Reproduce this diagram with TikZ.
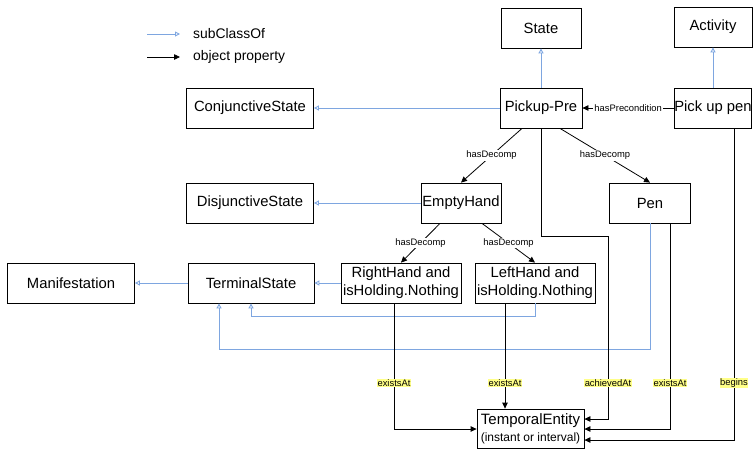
\documentclass[tikz,border=0pt]{standalone}
\usepackage{fontspec}
\setmainfont{Liberation Sans}
\usetikzlibrary{arrows.meta}
\definecolor{subblue}{RGB}{126,166,224}
\definecolor{labyellow}{RGB}{255,255,136}
\tikzset{
  box/.style={draw, line width=0.8pt, inner sep=0pt, minimum height=40pt, align=center, font=\fontsize{14.8}{18}\selectfont},
  sub/.style={draw=subblue, line width=0.9pt, -{Triangle[open,length=5pt,width=5pt]}},
  prop/.style={draw=black, line width=0.8pt, -{Triangle[length=6pt,width=5.5pt]}},
  lab/.style={fill=white, inner sep=1pt, font=\fontsize{9.4}{10}\selectfont},
  ylab/.style={fill=labyellow, inner sep=0.6pt, font=\fontsize{9.4}{10}\selectfont},
  legtext/.style={anchor=west, inner sep=0pt, font=\fontsize{13.9}{15}\selectfont}
}
\begin{document}
\begin{tikzpicture}[x=1pt,y=-1pt]
\useasboundingbox (0,0) rectangle (755,448);
% legend
\coordinate (l1a) at (147,34); \coordinate (l1b) at (180,34);
\coordinate (l2a) at (147,57); \coordinate (l2b) at (180,57);
\draw[sub] (l1a) -- (l1b);
\draw[prop] (l2a) -- (l2b);
\node[legtext] (l1t) at (193,34) {subClassOf};
\node[legtext] (l2t) at (193,57) {object property};
% nodes
\node[box, minimum width=80pt] (state) at (541,28) {State};
\node[box, minimum width=78pt] (activity) at (713,27) {Activity};
\node[box, minimum width=82pt] (pickup) at (541,108) {Pickup-Pre};
\node[box, minimum width=77pt] (pickpen) at (713,108) {Pick up pen};
\node[box, minimum width=127pt] (conj) at (250,108) {ConjunctiveState};
\node[box, minimum width=127pt] (disj) at (250,203) {DisjunctiveState};
\node[box, minimum width=80pt] (empty) at (461,203) {EmptyHand};
\node[box, minimum width=81pt] (pen) at (650,203) {Pen};
\node[box, minimum width=120pt] (right) at (401,283) {RightHand and\\isHolding.Nothing};
\node[box, minimum width=120pt] (left) at (535,283) {LeftHand and\\isHolding.Nothing};
\node[box, minimum width=127pt] (manif) at (71,283) {Manifestation};
\node[box, minimum width=126pt] (term) at (251,283) {TerminalState};
\node[box, minimum width=107pt, minimum height=39pt, font=\fontsize{15}{17}\selectfont] (temporal) at (530.5,428.5) {TemporalEntity\\{\fontsize{12}{13}\selectfont (instant or interval)}};
% subClassOf
\draw[sub] (pickup) -- (state);
\draw[sub] (pickpen) -- (activity);
\draw[sub] (pickup) -- (conj);
\draw[sub] (empty) -- (disj);
\draw[sub] (term) -- (manif);
\draw[sub] (right) -- (term);
\draw[sub] (left.south) -- ++(0,13) -| (term.south);
\coordinate (penturn) at (219,349);
\draw[sub] (pen.south) |- (penturn) -- (penturn |- term.south);
% object properties
\draw[prop] (pickpen) -- node[lab]{hasPrecondition} (pickup);
\draw[prop] ([xshift=-19]pickup.south) -- node[lab]{hasDecomp} (empty.north);
\draw[prop] ([xshift=19]pickup.south) -- node[lab]{hasDecomp} (pen.north);
\draw[prop] ([xshift=-21]empty.south) -- node[lab]{hasDecomp} (right.north);
\draw[prop] ([xshift=21]empty.south) -- node[lab]{hasDecomp} (left.north);
% temporal
\coordinate (a1) at (608,236); \coordinate (a2) at (608,419);
\draw[prop] (pickup.south) |- (a1) -- node[ylab, pos=0.803]{achievedAt} (a2) -- (a2 -| temporal.east);
\coordinate (p1) at (670,429);
\draw[prop] ([xshift=20]pen.south) -- node[ylab, pos=0.777]{existsAt} (p1) -- (p1 -| temporal.east);
\coordinate (b1) at (734,440);
\draw[prop] ([xshift=21]pickpen.south) -- node[ylab, pos=0.817]{begins} (b1) -- (b1 -| temporal.east);
\coordinate (r1) at (394,429);
\draw[prop] ([xshift=-7]right.south) -- node[ylab, pos=0.635]{existsAt} (r1) -- (r1 -| temporal.west);
\draw[prop] ([xshift=-30]left.south) -- node[ylab, pos=0.755]{existsAt} ([xshift=-30]left.south |- temporal.north);
\end{tikzpicture}
\end{document}
